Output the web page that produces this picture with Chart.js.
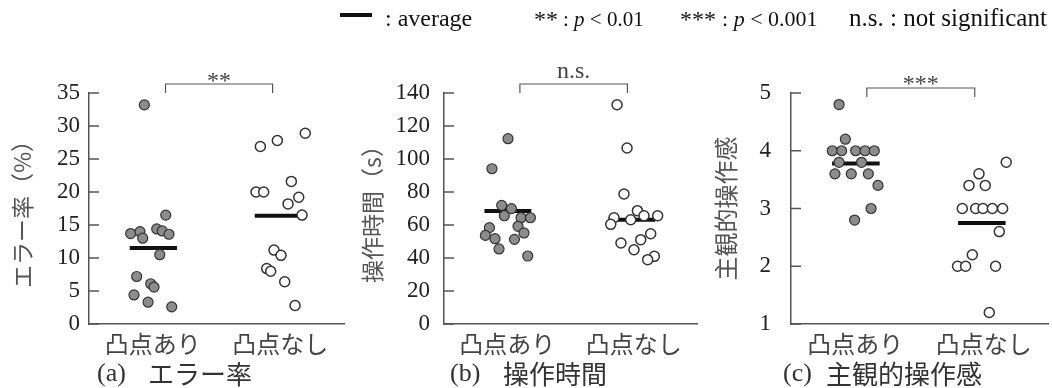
<!DOCTYPE html>
<html>
<head>
<meta charset="utf-8">
<script src="https://cdn.jsdelivr.net/npm/chart.js@4.4.1/dist/chart.umd.min.js"></script>
<style>
  body { margin: 0; background: #fff; }
  #wrap { position: relative; width: 1052px; height: 388px; overflow: hidden; }
  .panel { position: absolute; top: 0; height: 388px; }
  .lg { position: absolute; font-family: "Liberation Serif", "Times New Roman", serif; color: #111; white-space: pre; line-height: 1; }
</style>
</head>
<body>
<div id="wrap">
  <div class="panel" style="left:0;width:350px"><canvas id="chartA" width="350" height="388"></canvas></div>
  <div class="panel" style="left:350px;width:350px"><canvas id="chartB" width="350" height="388"></canvas></div>
  <div class="panel" style="left:700px;width:352px"><canvas id="chartC" width="352" height="388"></canvas></div>

  <div style="position:absolute;left:340px;top:13px;width:32px;height:4px;background:#111"></div>
  <span class="lg" style="left:385px;top:6px;font-size:24px">: average</span>
  <span class="lg" style="left:534px;top:7px;font-size:24px">**</span>
  <span class="lg" style="left:563px;top:9px;font-size:21px">: <i>p</i> &lt; 0.01</span>
  <span class="lg" style="left:680px;top:7px;font-size:24px">***</span>
  <span class="lg" style="left:722px;top:8px;font-size:22px">: <i>p</i> &lt; 0.001</span>
  <span class="lg" style="left:849px;top:5px;font-size:25px">n.s. : not significant</span>
</div>

<script>
const categories = ["凸点あり", "凸点なし"];

// (a) エラー率 (%)
const errOnX  = [0.934, 0.827, 0.900, 0.921, 1.031, 1.075, 1.127, 1.102, 1.055, 0.874, 0.984, 1.010, 0.853, 0.963, 1.149];
const errOnY  = [33.2, 13.7, 14.0, 13.0, 14.4, 14.1, 13.6, 16.5, 10.5, 7.2, 6.1, 5.6, 4.4, 3.3, 2.6];
const errOffX = [1.844, 1.977, 2.196, 1.810, 1.870, 2.087, 2.145, 2.061, 2.171, 1.951, 2.006, 1.894, 1.925, 2.035, 2.116];
const errOffY = [26.9, 27.8, 28.9, 20.0, 20.0, 21.6, 19.2, 18.2, 16.5, 11.2, 10.4, 8.4, 8.0, 6.4, 2.8];
const errMean = [11.5, 16.4];

// (b) 操作時間 (s)
const timeOnX  = [1.006, 0.879, 0.956, 1.033, 0.977, 0.859, 1.109, 1.183, 1.085, 0.827, 0.903, 1.057, 1.132, 0.935, 1.162];
const timeOnY  = [112.3, 94.1, 71.9, 69.9, 65.6, 58.4, 64.4, 64.4, 59.2, 53.7, 51.7, 51.3, 55.2, 45.5, 41.2];
const timeOffX = [1.868, 1.947, 1.923, 1.844, 2.029, 1.976, 2.081, 2.189, 1.818, 1.899, 2.055, 2.134, 2.002, 2.163, 2.110];
const timeOffY = [132.9, 106.7, 78.8, 64.4, 68.7, 63.2, 65.6, 65.6, 60.4, 49.1, 51.1, 54.7, 45.0, 41.0, 39.0];
const timeMean = [68.5, 63.2];

// (c) 主観的操作感
const feelOnX  = [0.874, 0.923, 0.821, 0.894, 1.003, 1.076, 1.148, 0.874, 1.049, 0.842, 0.969, 1.102, 1.177, 1.123, 0.995];
const feelOnY  = [4.8, 4.2, 4.0, 4.0, 4.0, 4.0, 4.0, 3.8, 3.8, 3.6, 3.6, 3.6, 3.4, 3.0, 2.8];
const feelOffX = [2.175, 1.963, 1.885, 2.012, 1.833, 1.937, 1.994, 2.067, 2.147, 2.121, 1.911, 1.796, 1.859, 2.092, 2.043];
const feelOffY = [3.8, 3.6, 3.4, 3.4, 3.0, 3.0, 3.0, 3.0, 3.0, 2.6, 2.2, 2.0, 2.0, 2.0, 1.2];
const feelMean = [3.78, 2.75];

// x extent of the average bars
const meanSpans = [[0.82, 1.19], [1.80, 2.17]];

// significance brackets (x in axis units) and labels
const bracketFrom = [1.10, 1.10, 1.09];
const bracketTo   = [1.94, 1.95, 1.93];
const sigLabels   = ["**", "n.s.", "***"];

const panelExtras = {
    id: "panelExtras",
    afterDraw(chart, args, opts) {
        const ctx = chart.ctx;
        const area = chart.chartArea;
        const xs = chart.scales.x, ys = chart.scales.y;
        ctx.save();

        // tick marks pointing inward
        ctx.strokeStyle = "#555";
        ctx.lineWidth = 1.5;
        ys.ticks.forEach(t => {
            const y = ys.getPixelForValue(t.value);
            ctx.beginPath();
            ctx.moveTo(area.left, y);
            ctx.lineTo(area.left + 10, y);
            ctx.stroke();
        });

        // bracket + label
        const x1 = xs.getPixelForValue(opts.from);
        const x2 = xs.getPixelForValue(opts.to);
        const top = area.top - opts.raise;
        ctx.lineWidth = 1.2;
        ctx.beginPath();
        ctx.moveTo(x1, top + 9);
        ctx.lineTo(x1, top);
        ctx.lineTo(x2, top);
        ctx.lineTo(x2, top + 9);
        ctx.stroke();
        ctx.fillStyle = "#444";
        ctx.font = opts.sigFont;
        ctx.textAlign = "center";
        ctx.textBaseline = "alphabetic";
        ctx.fillText(opts.sig, (x1 + x2) / 2, top + opts.sigDy);

        // caption under the panel
        ctx.fillStyle = "#333";
        ctx.textAlign = "left";
        ctx.textBaseline = "middle";
        ctx.font = '26px "Liberation Serif"';
        ctx.fillText(opts.tag, area.left + opts.capOff[0], 374);
        ctx.font = '26px "Noto Sans CJK JP"';
        ctx.fillText(opts.caption, area.left + opts.capOff[1], 374);

        ctx.restore();
    }
};

function pts(xs, ys) {
    return xs.map((x, i) => ({ x: x, y: ys[i] }));
}

function makePanel(id, p) {
    const meanSets = p.mean.map((m, i) => ({
        data: [{ x: meanSpans[i][0], y: m }, { x: meanSpans[i][1], y: m }],
        showLine: true,
        borderColor: "#111",
        borderWidth: 4,
        pointRadius: 0,
        borderCapStyle: "butt"
    }));
    new Chart(document.getElementById(id), {
        type: "scatter",
        data: {
            datasets: [
                {
                    data: pts(p.onX, p.onY),
                    pointRadius: 5,
                    pointBackgroundColor: "#8c8c8c",
                    pointBorderColor: "#333",
                    pointBorderWidth: 1.2
                },
                {
                    data: pts(p.offX, p.offY),
                    pointRadius: 5,
                    pointBackgroundColor: "#fff",
                    pointBorderColor: "#333",
                    pointBorderWidth: 1.5
                }
            ].concat(meanSets)
        },
        options: {
            responsive: false,
            animation: false,
            layout: { autoPadding: false, padding: { left: p.padL, top: 93, right: p.padR, bottom: 0 } },
            plugins: {
                legend: { display: false },
                tooltip: { enabled: false },
                panelExtras: {
                    from: p.from, to: p.to, raise: p.raise,
                    sig: p.sig, sigFont: p.sigFont, sigDy: p.sigDy,
                    tag: p.tag, caption: p.caption, capOff: p.capOff
                }
            },
            scales: {
                x: {
                    type: "linear",
                    min: 0.5,
                    max: 2.5,
                    afterBuildTicks: s => { s.ticks = [{ value: 1 }, { value: 2 }]; },
                    afterFit: s => { s.height = 64; },
                    grid: { display: false, drawTicks: false },
                    border: { display: true, color: "#555", width: 1.5 },
                    ticks: {
                        callback: v => categories[Math.round(v) - 1],
                        font: { family: '"Noto Sans CJK JP"', size: 24 },
                        color: "#444",
                        padding: 5,
                        maxRotation: 0,
                        autoSkip: false
                    }
                },
                y: {
                    min: p.yMin,
                    max: p.yMax,
                    afterFit: s => { s.width = p.yWidth; },
                    grid: { display: false, drawTicks: false },
                    border: { display: true, color: "#555", width: 1.5 },
                    ticks: {
                        stepSize: p.step,
                        font: { family: '"Liberation Serif"', size: 23 },
                        color: "#222",
                        padding: p.tickGap
                    },
                    title: {
                        display: true,
                        text: p.yTitle,
                        font: { family: '"Noto Sans CJK JP"', size: p.titleSize },
                        color: "#555",
                        padding: { top: 0, bottom: 0 }
                    }
                }
            }
        },
        plugins: [panelExtras]
    });
}

makePanel("chartA", {
    onX: errOnX, onY: errOnY, offX: errOffX, offY: errOffY, mean: errMean,
    yMin: 0, yMax: 35, step: 5, yTitle: "エラー率（%）", titleSize: 23,
    padL: 8, padR: 6, yWidth: 81, tickGap: 9,
    from: bracketFrom[0], to: bracketTo[0], raise: 9, sig: sigLabels[0],
    sigFont: '24px "Liberation Serif"', sigDy: 4,
    tag: "(a)", caption: "エラー率", capOff: [8, 59]
});

makePanel("chartB", {
    onX: timeOnX, onY: timeOnY, offX: timeOffX, offY: timeOffY, mean: timeMean,
    yMin: 0, yMax: 140, step: 20, yTitle: "操作時間（s）", titleSize: 23,
    padL: 8, padR: 3, yWidth: 86, tickGap: 14,
    from: bracketFrom[1], to: bracketTo[1], raise: 9, sig: sigLabels[1],
    sigFont: '24px "Liberation Serif"', sigDy: -6,
    tag: "(b)", caption: "操作時間", capOff: [6, 59]
});

makePanel("chartC", {
    onX: feelOnX, onY: feelOnY, offX: feelOffX, offY: feelOffY, mean: feelMean,
    yMin: 1, yMax: 5, step: 1, yTitle: "主観的操作感", titleSize: 24,
    padL: 11, padR: 4, yWidth: 80, tickGap: 20,
    from: bracketFrom[2], to: bracketTo[2], raise: 5, sig: sigLabels[2],
    sigFont: '24px "Liberation Serif"', sigDy: 3,
    tag: "(c)", caption: "主観的操作感", capOff: [-8, 35]
});
</script>
</body>
</html>
